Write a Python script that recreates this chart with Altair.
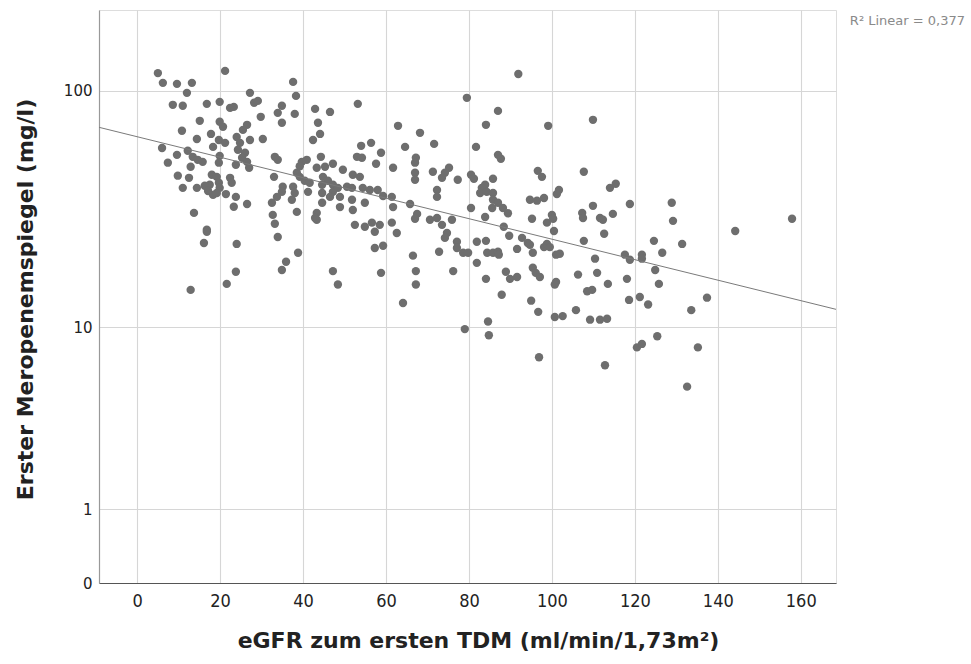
import altair as alt
import pandas as pd

egfr = [
    5.0, 6.2, 9.6, 13.2, 21.2, 12.0, 8.6, 11.0, 16.8, 19.9,
    22.4, 23.3, 27.2, 28.2, 29.1, 37.6, 38.3, 34.9, 33.9, 38.0,
    34.9, 29.8, 15.1, 10.8, 19.9, 20.7, 26.5, 25.5, 14.4, 17.8,
    19.7, 21.2, 18.3, 24.0, 24.8, 24.3, 26.0, 25.3, 26.5, 23.8,
    27.0, 27.2, 30.3, 6.0, 9.6, 12.2, 13.4, 14.6, 15.8, 19.9,
    19.7, 7.4, 12.9, 9.8, 12.5, 18.0, 19.2, 17.5, 19.7, 19.9,
    22.4, 22.8, 11.0, 14.4, 16.3, 17.1, 18.3, 19.2, 21.4, 23.8,
    23.3, 26.5, 13.7, 16.8, 33.2, 33.9, 33.0, 38.5, 39.2, 35.1,
    34.9, 33.7, 32.5, 32.7, 33.2, 37.6, 38.0, 37.3, 38.5,
    16.8, 16.1, 24.0, 12.9, 23.8, 21.6, 33.9, 38.8, 35.9, 34.9,
    42.9, 46.5, 53.2, 43.6, 44.1, 42.4, 62.9, 68.2, 71.6, 54.0,
    56.4, 58.8, 64.6, 44.3, 53.0, 54.2, 57.6, 61.7, 67.2, 67.0,
    71.3, 75.2, 74.2, 73.5, 77.3, 39.7, 40.9, 39.2, 40.4, 43.3,
    45.3, 47.2, 49.6, 52.0, 53.7, 44.8, 46.0, 44.6, 47.2, 67.0,
    67.0, 41.6, 41.2, 50.6, 51.8, 54.4, 56.1, 58.0, 47.2, 48.4,
    44.6, 46.5, 48.9, 59.3, 61.4, 72.3, 72.3, 51.8, 54.9, 44.6,
    48.9, 52.0, 61.7, 65.8, 43.3, 42.9, 67.5, 67.0, 70.6, 72.3,
    75.9, 73.5, 52.5, 54.9, 56.6, 58.5, 61.4,
    43.3, 57.3, 62.6, 74.7, 74.2, 77.1, 77.1, 72.8, 57.3, 59.3,
    66.5, 47.2, 48.4, 58.8, 67.2, 67.2, 76.2, 64.1,
    91.9, 79.5, 87.0, 84.1, 99.1, 109.9, 81.7, 87.0, 87.7, 80.5,
    81.2, 85.8, 83.9, 83.1, 82.7, 84.3, 85.8, 85.8, 87.0, 88.2,
    89.4, 80.5, 83.9, 85.6, 88.4, 96.6, 97.6, 94.7, 96.4, 98.1,
    101.7, 101.2, 107.7, 114.0, 115.4, 109.9, 95.2, 100.0, 100.3, 98.8,
    107.3, 107.5, 111.6, 112.3, 114.7,
    89.7, 100.5, 112.6, 78.6, 79.8, 81.9, 84.1, 84.4, 85.8, 87.0,
    87.2, 91.6, 92.8, 94.2, 94.7, 95.4, 98.1, 98.8, 99.5, 101.0,
    101.9, 107.7, 110.4, 81.9, 88.9, 89.9, 91.6, 95.4, 96.1, 97.1,
    84.1, 101.0, 100.7, 106.3, 110.9, 113.5, 108.5, 109.7, 87.9, 95.0,
    96.7, 105.8, 100.7, 102.6, 109.2, 111.6, 113.3, 84.6, 84.8, 79.0,
    96.9, 112.8,
    118.8, 128.9, 129.2, 157.9, 144.2, 124.6, 131.4, 117.6, 118.8, 121.7,
    121.7, 126.6, 124.9, 118.1, 125.8, 121.2, 118.6, 123.2, 137.4, 133.6,
    125.4, 120.5, 121.7, 135.2, 132.6,
]

meropenem = [
    118, 107.6, 106.6, 107.6, 120.5, 97.9, 87.4, 86.6, 88.2, 89.9,
    84.9, 85.7, 97.9, 89.1, 90.7, 108.6, 95.1, 86.6, 81, 80.2,
    73.7, 78, 75.1, 68.3, 74.4, 71, 72.3, 68.9, 63.2, 66.3,
    62.6, 60.9, 58.6, 64.4, 60.9, 57, 55.4, 52.8, 50.8, 49.4,
    48, 62.6, 63.2, 58, 54.3, 56.5, 53.3, 51.8, 50.8, 53.8,
    50.4, 50.4, 48.5, 44.5, 43.6, 44.9, 44, 40.8, 41.6, 39.6,
    43.6, 41.6, 39.6, 39.6, 40.4, 38.4, 37, 37.7, 37.3, 36.3,
    33, 33.9, 31.1, 26.4, 53.3, 51.8, 44, 45.8, 44, 40,
    38.1, 36.3, 34.3, 30.5, 28, 40, 37.7, 35.3, 31.4,
    25.9, 23.2, 23, 14.6, 17.5, 15.5, 24.6, 21.1, 19.3, 17.8,
    84.1, 81.7, 88.2, 73.7, 66.3, 62.6, 71.6, 67, 60.3, 59.2,
    60.9, 55.4, 58.6, 53.3, 53.3, 52.8, 49.9, 48, 52.8, 50.4,
    46.2, 48, 45.8, 43.6, 42.8, 50.8, 51.8, 48.7, 42.4, 48,
    48.5, 49.9, 47.1, 44.9, 44, 44, 42.4, 40.8, 40.8, 45.8,
    42.8, 41.6, 38.1, 40, 39.6, 39.6, 38.8, 38.8, 38.1, 39.6,
    37.7, 36.3, 36.3, 36.6, 36.3, 38.8, 36.3, 35.3, 34.3, 34.3,
    32.9, 32, 32.9, 33.9, 31.1, 29.6, 30.8, 29.4, 29.1, 29.6,
    29.1, 27.7, 27.7, 27.2, 28.3, 27.7, 28.3,
    29.1, 25.9, 25.6, 25.6, 24.4, 23.5, 22.1, 21.3, 22.1, 22.6,
    20.5, 17.6, 15.4, 17.3, 17.6, 15.4, 17.6, 12.8,
    117, 93.4, 82.5, 72.3, 71.6, 75.8, 58.6, 54.3, 52.3, 44.9,
    43.2, 43.2, 40.8, 39.6, 37.7, 38.1, 37.7, 35.3, 34.3, 32.6,
    31, 32.6, 29.9, 32.6, 27.2, 46.6, 44, 35.3, 35, 35.9,
    38.8, 37.3, 46.2, 39.6, 41.2, 33.3, 29.4, 30.5, 29.4, 28.3,
    31.1, 29.6, 29.6, 29.1, 30.8,
    24.9, 26.1, 25.4, 21.1, 21.1, 23.5, 23.7, 21.1, 21.1, 21.3,
    20.7, 21.9, 24.4, 23.2, 22.8, 21.1, 22.3, 23, 22.3, 20.7,
    20.9, 23.7, 19.9, 19.1, 17.5, 16.3, 16.6, 18.2, 17.3, 16.6,
    16.3, 15.8, 15.4, 17, 17.3, 15.5, 14.4, 14.6, 13.9, 13.1,
    11.7, 11.9, 11.1, 11.2, 10.8, 10.8, 10.9, 10.6, 9.2, 9.8,
    7.3, 6.7,
    33.9, 34.3, 28.8, 29.4, 26.1, 23.7, 23, 20.7, 19.7, 20.7,
    19.9, 21.1, 17.8, 16.3, 15.5, 13.6, 13.2, 12.6, 13.5, 11.9,
    9.1, 8.1, 8.4, 8.1, 5.3,
]

# linear fit (on the log-scaled axis), end points at the x-domain limits
fit_x = [-9.2, 168.5]
fit_y = [70.6, 12.0]

x_ticks = [0, 20, 40, 60, 80, 100, 120, 140, 160]
y_ticks = [0, 1, 10, 100]
x_domain = [-9.2, 168.5]
y_domain = [0, 214]

r2_label = ["R\u00b2 Linear = 0,377"]

pts = pd.DataFrame({"egfr": egfr, "mero": meropenem})
fit = pd.DataFrame({"egfr": fit_x, "mero": fit_y})

W, H = 737, 573

xscale = alt.Scale(domain=x_domain, nice=False, zero=False)
yscale = alt.Scale(type="symlog", constant=1, domain=y_domain, nice=False)

xaxis = alt.Axis(
    values=x_ticks, title="eGFR zum ersten TDM (ml/min/1,73m\u00b2)",
    grid=True, gridColor="#d6d6d6", gridWidth=1.1, ticks=False,
    domainColor="#555555", domainWidth=1.2,
    labelFont="Liberation Sans Narrow, DejaVu Sans Condensed, sans-serif",
    labelFontSize=18, labelColor="#222222", labelPadding=9,
    titleFont="DejaVu Sans", titleFontWeight="bold", titleFontSize=22,
    titleColor="#222222", titleX=379, titleY=57, titleBaseline="middle",
    titleAlign="center",
)
yaxis = alt.Axis(
    values=y_ticks, title="Erster Meropenemspiegel (mg/l)",
    grid=True, gridColor="#d6d6d6", gridWidth=1.1, ticks=False,
    domainColor="#999999", domainWidth=1.2,
    labelFont="DejaVu Sans", labelFontSize=15, labelColor="#222222",
    labelPadding=7, labelOverlap=False, format="d",
    titleFont="DejaVu Sans", titleFontWeight="bold", titleFontSize=22,
    titleColor="#222222", titleX=-74, titleY=289, titleBaseline="middle",
    titleAlign="center", titleAngle=270,
)

points = alt.Chart(pts).mark_circle(size=70, color="#6e6e6e", opacity=1).encode(
    x=alt.X("egfr:Q", scale=xscale, axis=xaxis),
    y=alt.Y("mero:Q", scale=yscale, axis=yaxis),
)

line = alt.Chart(fit).mark_line(color="#7a7a7a", strokeWidth=1, clip=True).encode(
    x=alt.X("egfr:Q", scale=xscale),
    y=alt.Y("mero:Q", scale=yscale),
)

label = alt.Chart(pd.DataFrame({"t": r2_label})).mark_text(
    align="right", baseline="middle", fontSize=13, color="#8a8a8a",
    font="DejaVu Sans",
).encode(x=alt.value(W + 129), y=alt.value(11), text="t:N")

chart = alt.layer(points, line, label).properties(
    width=W, height=H,
    autosize=alt.AutoSizeParams(type="none"),
    padding={"left": 99, "top": 10, "right": 135, "bottom": 81},
).configure_view(stroke=None).configure(background="white")

chart.save("out.html", embed_options={"renderer": "svg", "actions": False})
